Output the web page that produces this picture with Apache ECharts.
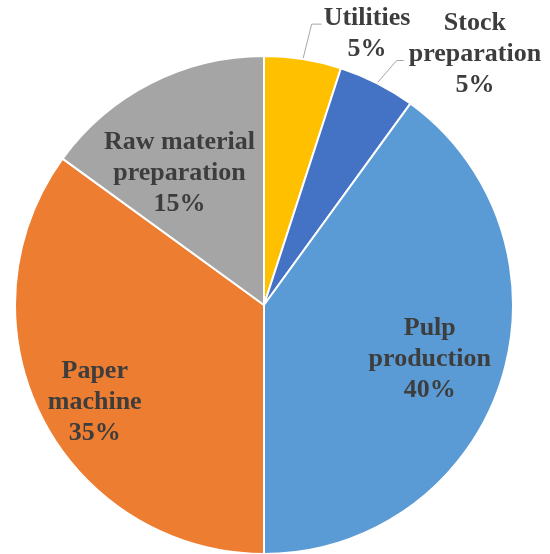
<!DOCTYPE html>
<html>
<head>
<meta charset="utf-8">
<script src="https://cdn.jsdelivr.net/npm/echarts@6/dist/echarts.min.js"></script>
<style>
  html, body { margin: 0; padding: 0; background: #ffffff; }
  #chart { width: 550px; height: 554px; }
</style>
</head>
<body>
<div id="chart"></div>
<script>
// Share of energy use by process area (%), clockwise from 12 o'clock
const categories = ['Utilities', 'Stock preparation', 'Pulp production', 'Paper machine', 'Raw material preparation'];
const shares = [5, 5, 40, 35, 15];
const sliceColors = ['#FFC000', '#4472C4', '#5B9BD5', '#ED7D31', '#A5A5A5'];

// Pie geometry
const CX = 264, CY = 305, R = 249;

// Label placement: inside labels sit at a fraction of the radius along the
// slice's mid angle; outside labels hang off a bent leader line.
const labelPlacement = [
  { outside: true, len: 36, tilt: 5, len2: 10, gap: 2, dy: 10 },
  { outside: true, len: 30, tilt: 14, len2: 7, gap: 5, dy: -6 },
  { k: 0.70, nudge: 0 },
  { k: 0.785, nudge: -3 },
  { k: 0.63, nudge: -5.6 }
];

const total = shares.reduce((a, b) => a + b, 0);
const midAngles = [];
let acc = 0;
shares.forEach(v => { midAngles.push((acc + v / 2) / total * 360); acc += v; });

function polar(angleDeg, dist) {
  const a = angleDeg * Math.PI / 180;
  return [CX + dist * Math.sin(a), CY - dist * Math.cos(a)];
}

// Break the name at its last space to get the two-line label
function wrapName(name) {
  const i = name.lastIndexOf(' ');
  return i < 0 ? name : name.slice(0, i) + '\n' + name.slice(i + 1);
}

const chart = echarts.init(document.getElementById('chart'), null, { renderer: 'canvas' });

const seriesData = categories.map((name, i) => ({
  name: name,
  value: shares[i],
  itemStyle: { color: sliceColors[i] },
  label: { position: labelPlacement[i].outside ? 'outside' : 'inside' },
  labelLine: { show: !!labelPlacement[i].outside }
}));

chart.setOption({
  animation: false,
  backgroundColor: '#ffffff',
  series: [{
    type: 'pie',
    center: [CX, CY],
    radius: R,
    startAngle: 90,
    clockwise: true,
    avoidLabelOverlap: false,
    data: seriesData,
    itemStyle: { borderColor: '#ffffff', borderWidth: 2 },
    label: {
      show: true,
      formatter: p => wrapName(p.name) + '\n' + p.value + '%',
      fontFamily: '"Liberation Serif", "Times New Roman", serif',
      fontWeight: 'bold',
      fontSize: 26,
      lineHeight: 31,
      color: '#3d3d3d',
      align: 'center'
    },
    labelLine: {
      lineStyle: { color: '#a6a6a6', width: 1 }
    },
    labelLayout: function (params) {
      const i = params.dataIndex;
      const cfg = labelPlacement[i];
      const mid = midAngles[i];
      if (cfg.outside) {
        const p0 = polar(mid, R);
        const t = (mid + cfg.tilt) * Math.PI / 180;
        const p1 = [p0[0] + cfg.len * Math.sin(t), p0[1] - cfg.len * Math.cos(t)];
        const p2 = [p1[0] + cfg.len2, p1[1]];
        const w = params.labelRect.width;
        return {
          x: p2[0] + cfg.gap + w / 2,
          y: p2[1] + cfg.dy,
          align: 'center',
          verticalAlign: 'middle',
          labelLinePoints: [p0, p1, p2]
        };
      }
      const pos = polar(mid + cfg.nudge, R * cfg.k);
      return { x: pos[0], y: pos[1], align: 'center', verticalAlign: 'middle' };
    }
  }]
});
</script>
</body>
</html>
